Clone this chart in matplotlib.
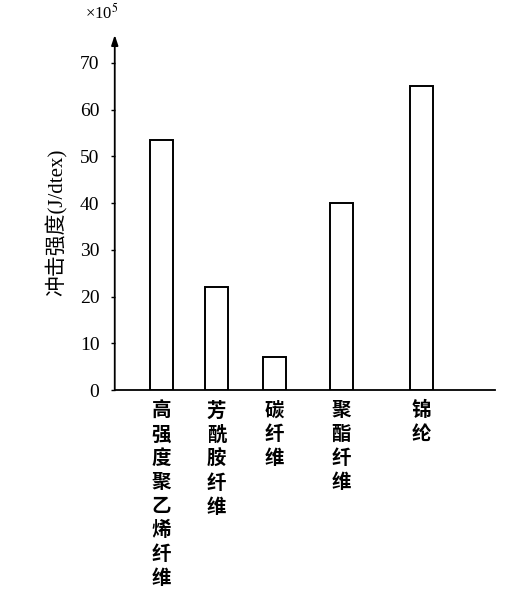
import matplotlib
matplotlib.use("Agg")
import matplotlib.pyplot as plt

categories = ["高强度聚乙烯纤维", "芳酰胺纤维", "碳纤维", "聚酯纤维", "锦纶"]
values = [53.5, 22.0, 7.0, 40.0, 65.0]
yticks = [0, 10, 20, 30, 40, 50, 60, 70]
ylabel = "冲击强度(J/dtex)"
scale_label = "×10$^5$"

# layout (positions of bars along the x axis)
xpos = [0.84, 1.84, 2.89, 4.10, 5.55]

fam = ["Liberation Serif", "Noto Sans CJK SC", "DejaVu Sans"]
plt.rcParams["font.family"] = fam
plt.rcParams["mathtext.fontset"] = "stix"

fig = plt.figure(figsize=(5.10, 5.92), dpi=100)
ax = fig.add_axes([0.225, 0.341, 0.745, 0.600])

ax.bar(xpos, values, width=0.41, facecolor="white", edgecolor="black", linewidth=1.4, zorder=3)

ax.set_xlim(0, 6.87)
ax.set_ylim(0, 76)
ax.set_yticks(yticks)
ax.set_yticklabels([str(t) for t in yticks], fontsize=14)
ax.tick_params(axis="y", direction="out", length=3, width=1, pad=8)
ax.set_xticks([])

for s in ["top", "right", "left"]:
    ax.spines[s].set_visible(False)
ax.spines["bottom"].set_linewidth(1.3)

# y axis with arrow
ax.annotate("", xy=(0, 1.0), xytext=(0, 0), xycoords="axes fraction",
            arrowprops=dict(arrowstyle="-|>,head_length=0.6,head_width=0.2",
                            color="black", lw=1.3, shrinkA=0, shrinkB=0))

# scale label
ax.text(0.01, 1.035, scale_label, transform=ax.transAxes, fontsize=12,
        ha="right", va="bottom")

# y label
fig.text(0.112, 0.625, ylabel, rotation=90, fontsize=15, ha="center", va="center",
         family=fam)

# vertical category labels
for x, c in zip(xpos, categories):
    ax.text(x, -2.4, "\n".join(c), ha="center", va="top", fontsize=14,
            linespacing=1.33, fontweight="bold",
            family=["Noto Sans CJK SC", "DejaVu Sans"])

fig.savefig("out.png", dpi=100)
